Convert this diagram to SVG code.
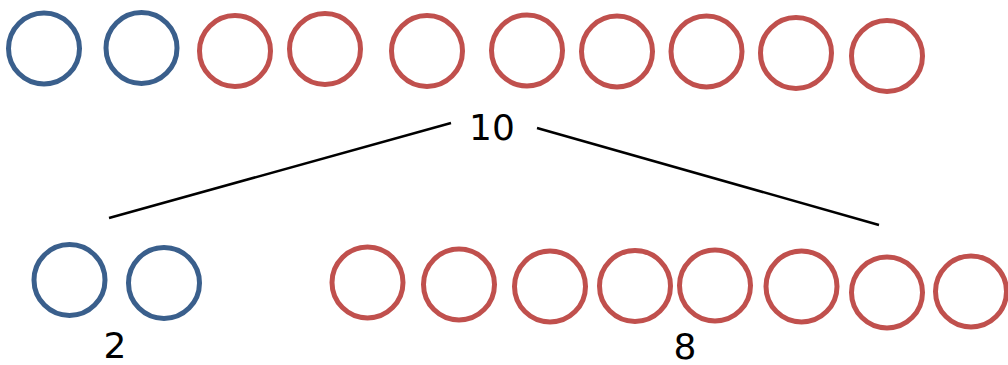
<svg xmlns="http://www.w3.org/2000/svg" width="1008" height="365" viewBox="0 0 1008 365">
<style>
.b{fill:#fff;stroke:#3a5f8c;stroke-width:5}
.r{fill:#fff;stroke:#c0504d;stroke-width:5}
.t{font-family:"DejaVu Sans","Liberation Sans",sans-serif;font-size:36px;fill:#000;text-anchor:middle}
.c{stroke:#000;stroke-width:2.5;fill:none}
</style>
<rect width="1008" height="365" fill="#fff"/>
<g id="top">
<circle class="b" cx="44" cy="48.5" r="35.5"/>
<circle class="b" cx="141.5" cy="48" r="35.5"/>
<circle class="r" cx="235" cy="51" r="35.5"/>
<circle class="r" cx="325" cy="49" r="35.5"/>
<circle class="r" cx="427" cy="51" r="35.5"/>
<circle class="r" cx="527" cy="50.5" r="35.5"/>
<circle class="r" cx="617" cy="51.5" r="35.5"/>
<circle class="r" cx="706.5" cy="51.5" r="35.5"/>
<circle class="r" cx="796" cy="53" r="35.5"/>
<circle class="r" cx="887" cy="56" r="35.5"/>
</g>
<g id="label10"><text class="t" x="492" y="140">10</text></g>
<g id="connectors">
<line class="c" x1="109" y1="218" x2="451" y2="123"/>
<line class="c" x1="537" y1="128" x2="879" y2="225"/>
</g>
<g id="left">
<circle class="b" cx="69.5" cy="280" r="35.5"/>
<circle class="b" cx="164" cy="283" r="35.5"/>
<text class="t" x="115" y="358">2</text>
</g>
<g id="right">
<circle class="r" cx="367.5" cy="282.5" r="35.5"/>
<circle class="r" cx="459" cy="284.5" r="35.5"/>
<circle class="r" cx="550" cy="286.5" r="35.5"/>
<circle class="r" cx="635" cy="286" r="35.5"/>
<circle class="r" cx="715" cy="285.5" r="35.5"/>
<circle class="r" cx="801.5" cy="286.5" r="35.5"/>
<circle class="r" cx="887" cy="292.5" r="35.5"/>
<circle class="r" cx="971" cy="291.5" r="35.5"/>
<text class="t" x="685" y="359">8</text>
</g>
</svg>
